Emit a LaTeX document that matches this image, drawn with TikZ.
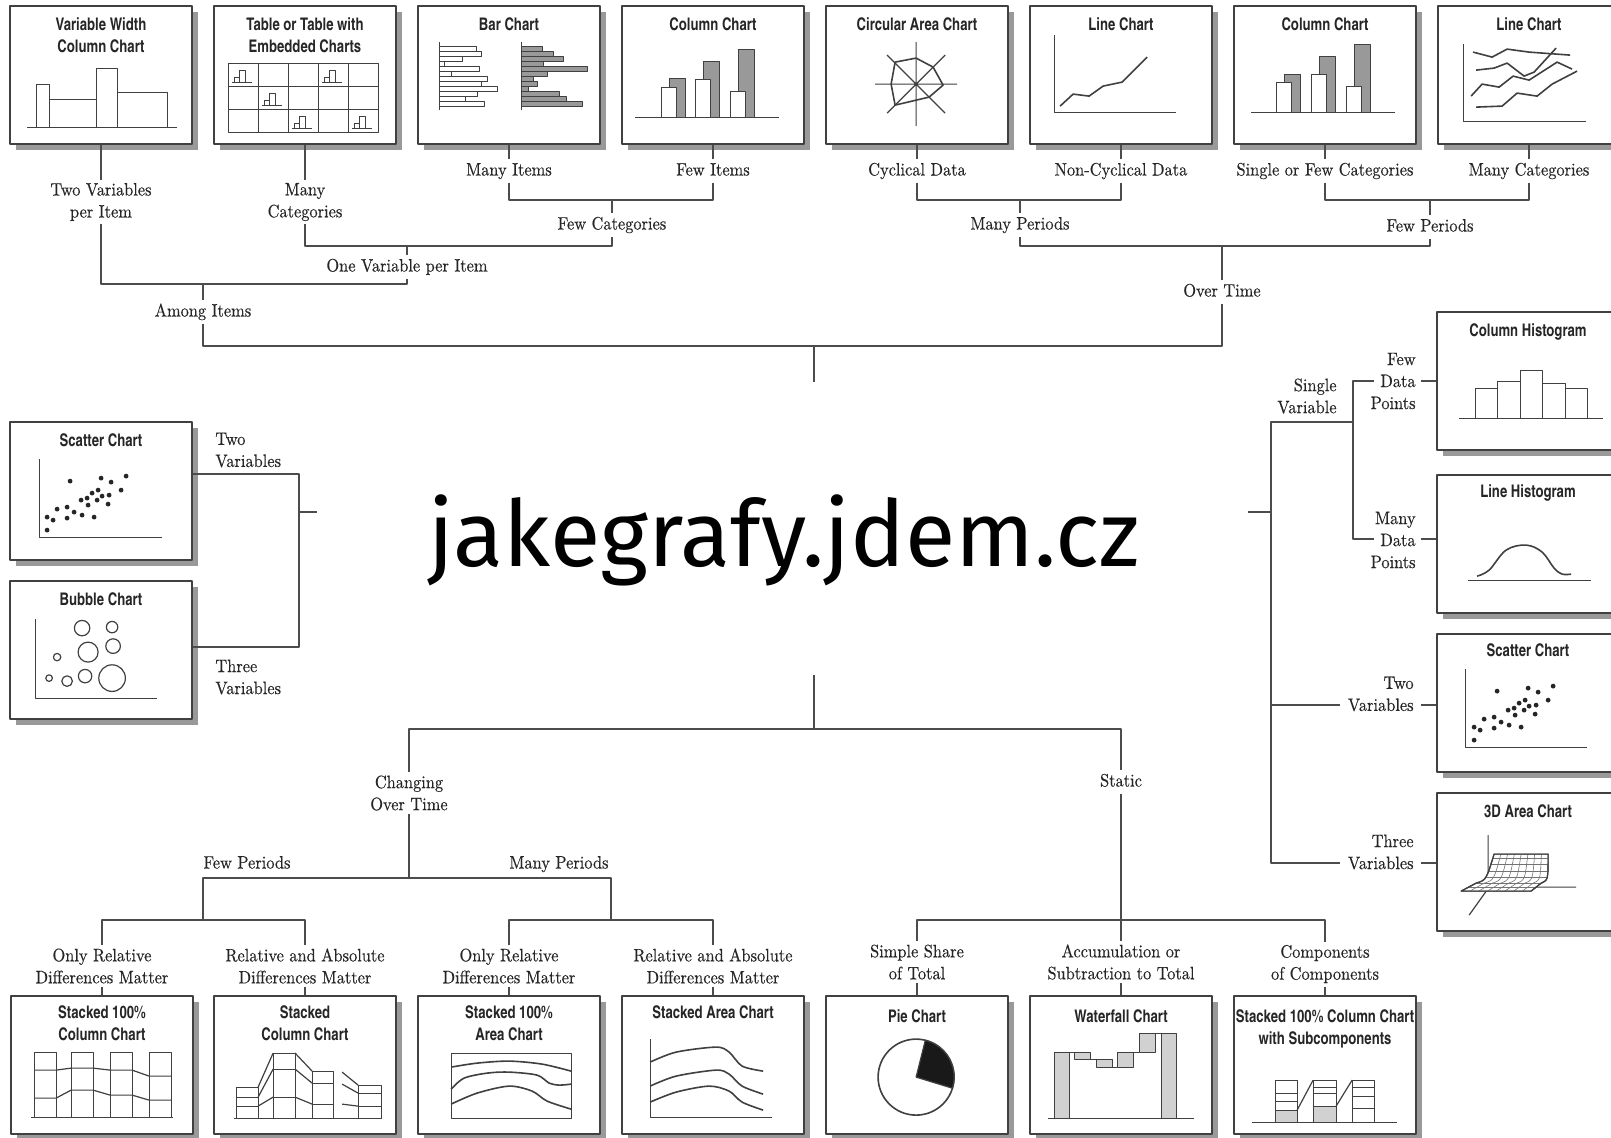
\documentclass[tikz,border=0pt]{standalone}
\usepackage{fontspec}
\usetikzlibrary{positioning, shadows}
\newfontfamily\titlefont[FakeStretch=0.92]{texgyreheroscn-bold.otf}
\newfontfamily\labelfont[FakeStretch=0.91, FakeBold=0.3]{lmroman10-regular.otf}
\newfontfamily\markfont{Fira Sans}
\newcommand{\scatterdots}{61/60, 92/57, 102/61, 117/55, 89/69, 83/72, 112/69, 72/79, 78/77, 93/75, 100/74, 88/79, 79/84, 99/83, 48/88, 58/86, 65/91, 73/94, 38/96, 44/99, 58/97, 85/96, 38/109}

\begin{document}
\begin{tikzpicture}[x=0.5pt, y=-0.5pt, line join=round,
    chart/.style={draw=black!75, line width=0.9pt, fill=white, inner sep=0pt,
                  minimum width=91pt, minimum height=69pt,
                  drop shadow={shadow xshift=2.8pt, shadow yshift=-2.8pt, fill=black!40, opacity=1}},
    ctitle/.style={font=\titlefont\fontsize{8.7}{11}\selectfont, align=center, inner sep=0pt, anchor=north, text=black!85},
    lbl/.style={font=\labelfont\fontsize{9}{11}\selectfont, align=center, inner sep=1.5pt, text=black!85},
    lbl1/.style={lbl, text height=6.4pt, text depth=1.9pt},
    wire/.style={draw=black!70, line width=0.7pt},
    ink/.style={draw=black!75, line width=0.6pt},
    bar/.style={ink, fill=white},
    gbar/.style={ink, fill=black!40},
    lbar/.style={ink, fill=black!18},
    grid3/.style={draw=black!55, line width=0.3pt}]

\fill[white] (0,0) rectangle (1611,1137);
\useasboundingbox (0,0) rectangle (1611,1137);

% chart boxes
\node[chart] (vw)     at (101,75)   {};
\node[chart] (tbl)    at (305,75)   {};
\node[chart] (barc)   at (509,75)   {};
\node[chart] (colc)   at (713,75)   {};
\node[chart] (circ)   at (917,75)   {};
\node[chart] (linec)  at (1121,75)  {};
\node[chart] (colb)   at (1325,75)  {};
\node[chart] (lineb)  at (1529,75)  {};
\node[chart] (scat)   at (101,491)  {};
\node[chart] (bub)    at (101,650)  {};
\node[chart] (chist)  at (1528,381) {};
\node[chart] (lhist)  at (1528,544) {};
\node[chart] (scatb)  at (1528,703) {};
\node[chart] (area3)  at (1528,862) {};
\node[chart] (scolp)  at (102,1065) {};
\node[chart] (scol)   at (305,1065) {};
\node[chart] (sareap) at (509,1065) {};
\node[chart] (sarea)  at (713,1065) {};
\node[chart] (pie)    at (917,1065) {};
\node[chart] (wfall)  at (1121,1065) {};
\node[chart] (subc)   at (1325,1065) {};

% titles
\node[ctitle] (vwT)     at ([yshift=-6pt]vw.north)     {Variable Width\\Column Chart};
\node[ctitle] (tblT)    at ([yshift=-6pt]tbl.north)    {Table or Table with\\Embedded Charts};
\node[ctitle] (barcT)   at ([yshift=-6pt]barc.north)   {Bar Chart};
\node[ctitle] (colcT)   at ([yshift=-6pt]colc.north)   {Column Chart};
\node[ctitle] (circT)   at ([yshift=-6pt]circ.north)   {Circular Area Chart};
\node[ctitle] (linecT)  at ([yshift=-6pt]linec.north)  {Line Chart};
\node[ctitle] (colbT)   at ([yshift=-6pt]colb.north)   {Column Chart};
\node[ctitle] (linebT)  at ([yshift=-6pt]lineb.north)  {Line Chart};
\node[ctitle] (scatT)   at ([yshift=-6pt]scat.north)   {Scatter Chart};
\node[ctitle] (bubT)    at ([yshift=-6pt]bub.north)    {Bubble Chart};
\node[ctitle] (chistT)  at ([yshift=-6pt]chist.north)  {Column Histogram};
\node[ctitle] (lhistT)  at ([yshift=-5pt]lhist.north)  {Line Histogram};
\node[ctitle] (scatbT)  at ([yshift=-5pt]scatb.north)  {Scatter Chart};
\node[ctitle] (area3T)  at ([yshift=-6pt]area3.north)  {3D Area Chart};
\node[ctitle] (scolpT)  at ([yshift=-5pt]scolp.north)  {Stacked 100\%\\Column Chart};
\node[ctitle] (scolT)   at ([yshift=-5pt]scol.north)   {Stacked\\Column Chart};
\node[ctitle] (sareapT) at ([yshift=-5pt]sareap.north) {Stacked 100\%\\Area Chart};
\node[ctitle] (sareaT)  at ([yshift=-5pt]sarea.north)  {Stacked Area Chart};
\node[ctitle] (pieT)    at ([yshift=-7pt]pie.north)    {Pie Chart};
\node[ctitle] (wfallT)  at ([yshift=-7pt]wfall.north)  {Waterfall Chart};
\node[ctitle] (subcT)   at ([yshift=-7pt]subc.north)   {Stacked 100\% Column Chart\\with Subcomponents};

% small pictures inside the boxes
\begin{scope}[shift={(vw.north west)}]
  \draw[bar] (27,122) rectangle (40,79);
  \draw[bar] (40,122) rectangle (87,94);
  \draw[bar] (87,122) rectangle (108,63);
  \draw[bar] (108,122) rectangle (158,87);
  \draw[ink] (18,122) -- (168,122);
\end{scope}

\begin{scope}[shift={(tbl.north west)}]
  \draw[ink] (15,58) rectangle (165,127);
  \foreach \x in {45,75,105,135} \draw[ink] (\x,58) -- (\x,127);
  \foreach \y in {81,104} \draw[ink] (15,\y) -- (165,\y);
  \foreach \c/\r in {0/0, 3/0, 1/1, 2/2, 4/2} {
    \begin{scope}[shift={({15+30*\c},{58+23*\r})}]
      \draw[ink, line width=0.4pt] (6,19) rectangle (11,14) (11,19) rectangle (17,7);
      \draw[ink, line width=0.4pt] (4,19) -- (24,19);
    \end{scope}
  }
\end{scope}

\begin{scope}[shift={(barc.north west)}]
  \foreach \w [count=\i] in {59,64,45,27,62,34,70,64,80,60,48,67}
    \draw[bar] (22,{36+5*\i}) rectangle (\w,{41+5*\i});
  \foreach \w [count=\i] in {125,136,146,126,170,130,116,120,111,142,149,165}
    \draw[gbar] (104,{36+5*\i}) rectangle (\w,{41+5*\i});
  \draw[ink] (22,37) -- (22,105) (104,37) -- (104,105);
\end{scope}

\begin{scope}[shift={(colc.north west)}]
  \foreach \a/\w/\g in {40/82/73, 74/74/56, 109/86/44} {
    \draw[gbar] ({\a+8},112) rectangle ({\a+24},\g);
    \draw[bar] (\a,112) rectangle ({\a+15},\w);
  }
  \draw[ink] (14,112) -- (158,112);
\end{scope}

\begin{scope}[shift={(circ.north west)}]
  \draw[ink] (50,79) -- (132,79) (91,37) -- (91,121) (62,50) -- (120,108) (62,108) -- (120,50);
  \draw[ink, line width=0.8pt] (91,53) -- (108,62) -- (118,80) -- (104,92) -- (70,100) -- (66,79) -- (70,57) -- cycle;
\end{scope}

\begin{scope}[shift={(linec.north west)}]
  \draw[ink] (25,30) -- (25,107) -- (147,107);
  \draw[ink, line width=0.8pt] (31,101) -- (44,89) -- (60,91) -- (74,81) -- (93,77) -- (118,52);
\end{scope}

\begin{scope}[shift={(colb.north west)}]
  \foreach \a/\w/\g in {43/77/69, 78/69/51, 113/81/39} {
    \draw[gbar] ({\a+8},107) rectangle ({\a+24},\g);
    \draw[bar] (\a,107) rectangle ({\a+15},\w);
  }
  \draw[ink] (18,107) -- (162,107);
\end{scope}

\begin{scope}[shift={(lineb.north west)}]
  \draw[ink] (26,39) -- (26,116) -- (149,116);
  \draw[ink, line width=0.8pt] (36,47) -- (55,52) -- (70,44) -- (92,47) -- (133,50);
  \draw[ink, line width=0.8pt] (39,65) -- (57,63) -- (70,58) -- (87,71) -- (97,67) -- (119,43);
  \draw[ink, line width=0.8pt] (34,91) -- (45,79) -- (62,82) -- (76,71) -- (92,75) -- (120,57) -- (135,64);
  \draw[ink, line width=0.8pt] (39,102) -- (65,101) -- (80,88) -- (100,91) -- (115,79) -- (140,66);
\end{scope}

\begin{scope}[shift={(scat.north west)}]
  \draw[ink] (30,38) -- (30,116) -- (153,116);
  \foreach \p/\q in \scatterdots \fill[black!85] (\p,\q) circle (1.2pt);
\end{scope}

\begin{scope}[shift={(bub.north west)}]
  \draw[ink] (26,39) -- (26,118) -- (148,118);
  \foreach \p/\q/\r in {73/48/7.7, 103/47/5.7, 79/72/10, 104/66/7.3, 48/77/3.7, 40/98/3.3, 58/101/5.3, 76/96/6.7, 103/98/13.3}
    \draw[ink] (\p,\q) circle[radius=\r];
\end{scope}

\begin{scope}[shift={(chist.north west)}]
  \foreach \a/\b/\t in {39/61/77, 61/84/70, 84/106/59, 106/129/72, 129/151/77}
    \draw[bar] (\a,107) rectangle (\b,\t);
  \draw[ink] (23,107) -- (167,107);
\end{scope}

\begin{scope}[shift={(lhist.north west)}]
  \draw[ink] (32,106) -- (155,106);
  \draw[ink, line width=0.8pt] plot[smooth, tension=0.6] coordinates {(41,102) (53,96) (70,76) (90,71) (106,78) (118,94) (126,100) (135,100)};
\end{scope}

\begin{scope}[shift={(scatb.north west)}]
  \draw[ink] (29,36) -- (29,114) -- (151,114);
  \foreach \p/\q in \scatterdots \fill[black!85] (\p,{\q-2}) circle (1.2pt);
\end{scope}

\begin{scope}[shift={(area3.north west)}]
  \draw[ink] (52,43) -- (52,94) (83,95) -- (140,95) (53,95) -- (33,123);
  \draw[ink, fill=white] (25,99) -- (95,99) -- (105,91) .. controls (112,88) .. (112,62) -- (58,62) .. controls (50,88) .. (40,91) -- cycle;
  \foreach \i in {1,...,7}
    \draw[grid3] ({25+70*\i/8},99) -- ({40+65*\i/8},91) .. controls ({50+62*\i/8},88) .. ({58+54*\i/8},62);
  \foreach \ya/\xa/\xb in {95/32.5/100, 91/40/105, 85.1/49.8/111.1, 79.2/52.5/111.8, 72/54.9/112, 65.7/56.9/112}
    \draw[grid3] (\xa,\ya) -- (\xb,\ya);
  \draw[ink] (25,99) -- (95,99) -- (105,91) .. controls (112,88) .. (112,62) -- (58,62) .. controls (50,88) .. (40,91) -- cycle;
\end{scope}

\begin{scope}[shift={(scolp.north west)}]
  \foreach \a in {24,61,100,139} \draw[bar] (\a,122) rectangle ({\a+22},57);
  \draw[ink] (24,75) -- (46,75) -- (61,73) -- (83,73) -- (100,75) -- (122,75) -- (139,81) -- (161,81);
  \draw[ink] (24,103) -- (46,103) -- (61,95) -- (83,95) -- (100,100) -- (122,100) -- (139,105) -- (161,105);
  \draw[ink] (21,122) -- (163,122);
\end{scope}

\begin{scope}[shift={(scol.north west)}]
  \foreach \a/\b/\t/\m/\n in {23/45/92/102/111, 60/82/58/74/102, 99/120/76/88/109, 145/168/90/98/111} {
    \draw[bar] (\a,123) rectangle (\b,\t);
    \draw[ink] (\a,\m) -- (\b,\m) (\a,\n) -- (\b,\n);
  }
  \draw[ink] (45,92) -- (60,58) (45,102) -- (60,74) (45,111) -- (60,102);
  \draw[ink] (82,58) -- (99,76) (82,74) -- (99,88) (82,102) -- (99,109);
  \draw[ink] (129,77) -- (145,90) (129,89) -- (145,98) (129,109) -- (145,111);
  \draw[ink] (21,123) -- (169,123);
\end{scope}

\begin{scope}[shift={(sareap.north west)}]
  \draw[ink] (34,58) rectangle (154,123);
  \draw[ink, line width=0.8pt] plot[smooth] coordinates {(34,72) (60,68) (92,66) (125,69) (154,76)};
  \draw[ink, line width=0.8pt] plot[smooth] coordinates {(34,94) (47,83) (70,78) (92,77) (120,80) (132,88) (142,90) (154,89)};
  \draw[ink, line width=0.8pt] plot[smooth] coordinates {(34,109) (60,98) (92,91) (115,96) (130,106) (154,114)};
\end{scope}

\begin{scope}[shift={(sarea.north west)}]
  \draw[ink] (29,44) -- (29,122) -- (151,122);
  \draw[ink, line width=0.8pt] plot[smooth] coordinates {(29,67) (55,57) (95,52) (108,57) (121,71) (142,76)};
  \draw[ink, line width=0.8pt] plot[smooth] coordinates {(29,91) (55,81) (95,75) (108,79) (121,91) (142,99)};
  \draw[ink, line width=0.8pt] plot[smooth] coordinates {(29,107) (55,97) (88,91) (108,96) (121,107) (142,115)};
\end{scope}

\begin{scope}[shift={(pie.north west)}]
  \draw[ink, line width=0.8pt] (91,82) circle[radius=38];
  \filldraw[ink, fill=black!90] (91,82) -- ++(17:38) arc[start angle=17, end angle=-76, radius=38] -- cycle;
\end{scope}

\begin{scope}[shift={(wfall.north west)}]
  \draw[lbar] (25,123) rectangle (40,57);
  \draw[lbar] (45,57) rectangle (61,64);
  \draw[lbar] (67,64) rectangle (83,72);
  \draw[lbar] (88,72) rectangle (104,57);
  \draw[lbar] (110,57) rectangle (126,38);
  \draw[lbar] (132,123) rectangle (147,38);
  \draw[ink] (40,57) -- (45,57) (61,64) -- (67,64) (83,72) -- (88,72) (104,57) -- (110,57) (126,38) -- (132,38);
  \draw[ink] (19,123) -- (165,123);
\end{scope}

\begin{scope}[shift={(subc.north west)}]
  \draw[lbar] (42,127) rectangle (64,115);
  \draw[lbar] (80,127) rectangle (103,111);
  \draw[ink] (42,127) rectangle (64,85) (42,98) -- (64,98) (42,106) -- (64,106);
  \draw[ink] (80,127) rectangle (103,85) (80,92) -- (103,92) (80,98) -- (103,98);
  \draw[ink] (119,127) rectangle (141,85) (119,92) -- (141,92) (119,101) -- (141,101) (119,113) -- (141,113);
  \draw[ink] (64,115) -- (80,85) (103,111) -- (119,85);
  \draw[ink] (19,127) -- (164,127);
\end{scope}

% top tree
\node[lbl]  (twovar)    at (101,202)  {Two Variables\\per Item};
\node[lbl]  (manycat)   at (305,202)  {Many\\Categories};
\node[lbl1] (manyitem)  at (509,171)  {Many Items};
\node[lbl1] (fewitem)   at (713,171)  {Few Items};
\node[lbl1] (fewcat)    at (612,225)  {Few Categories};
\node[lbl1] (onevar)    at (407,267)  {One Variable per Item};
\node[lbl1] (among)     at (203,312)  {Among Items};
\node[lbl1] (cyc)       at (917,171)  {Cyclical Data};
\node[lbl1] (noncyc)    at (1121,171) {Non-Cyclical Data};
\node[lbl1] (manyper)   at (1020,225) {Many Periods};
\node[lbl1] (singlefew) at (1325,171) {Single or Few Categories};
\node[lbl1] (manycatb)  at (1529,171) {Many Categories};
\node[lbl1] (fewper)    at (1430,227) {Few Periods};
\node[lbl1] (overtime)  at (1222,292) {Over Time};

\coordinate (hA) at (0,200);
\coordinate (hB) at (0,246);
\coordinate (hC) at (0,284);
\coordinate (hD) at (0,346);
\coordinate (stubT) at (814,382);
\draw[wire] (vw) -- (twovar) |- (onevar |- hC) -- (onevar) -- (onevar |- hB);
\draw[wire] (tbl) -- (manycat) |- (fewcat |- hB) -- (fewcat) -- (fewcat |- hA);
\draw[wire] (barc) -- (manyitem) |- (fewitem |- hA) -- (fewitem) -- (colc);
\draw[wire] (among |- hC) -- (among) -- (among |- hD) -- (overtime |- hD) -- (overtime) -- (overtime |- hB);
\draw[wire] (circ) -- (cyc) |- (noncyc |- hA) -- (noncyc) -- (linec);
\draw[wire] (manyper |- hA) -- (manyper) |- (fewper |- hB) -- (fewper) -- (fewper |- hA);
\draw[wire] (colb) -- (singlefew) |- (manycatb |- hA) -- (manycatb) -- (lineb);
\draw[wire] (stubT |- hD) -- (stubT);

% left tree
\node[lbl, align=left, anchor=west] (twovarL)   at (212,450) {Two\\Variables};
\node[lbl, align=left, anchor=west] (threevarL) at (212,677) {Three\\Variables};
\coordinate (jS) at (299,474);
\coordinate (jB) at (299,647);
\coordinate (stubL) at (317,512);
\draw[wire] (scat.east |- jS) -- (jS) -- (jB) -- (bub.east |- jB);
\draw[wire] (jS |- stubL) -- (stubL);

% right tree
\node[lbl, align=right, anchor=east] (singlev)   at (1340,396) {Single\\Variable};
\node[lbl, align=right, anchor=east] (fewdp)     at (1419,381) {Few\\Data\\Points};
\node[lbl, align=right, anchor=east] (manydp)    at (1419,540) {Many\\Data\\Points};
\node[lbl, align=right, anchor=east] (twovarR)   at (1417,694) {Two\\Variables};
\node[lbl, align=right, anchor=east] (threevarR) at (1417,852) {Three\\Variables};
\coordinate (stubR) at (1248,512);
\coordinate (jR1) at (1271,422);
\coordinate (jR4) at (1271,863);
\coordinate (jSV) at (1353,422);
\coordinate (jFew) at (1353,381);
\coordinate (jMany) at (1353,539);
\coordinate (fewIn) at (1374,381);
\coordinate (fewOut) at (1421,381);
\coordinate (manyIn) at (1374,539);
\coordinate (manyOut) at (1421,539);
\coordinate (twoIn) at (1340,705);
\coordinate (twoOut) at (1421,705);
\coordinate (threeIn) at (1340,863);
\coordinate (threeOut) at (1421,863);
\draw[wire] (stubR) -- (jR1 |- stubR);
\draw[wire] (jSV) -- (jR1) -- (jR4) -- (threeIn);
\draw[wire] (jR1 |- twoIn) -- (twoIn);
\draw[wire] (fewIn) -- (jFew) -- (jMany) -- (manyIn);
\draw[wire] (fewOut) -- (chist.west |- fewOut);
\draw[wire] (manyOut) -- (lhist.west |- manyOut);
\draw[wire] (twoOut) -- (scatb.west |- twoOut);
\draw[wire] (threeOut) -- (area3.west |- threeOut);

% bottom tree
\node[lbl]  (changing) at (409,793)  {Changing\\Over Time};
\node[lbl1] (static)   at (1121,782) {Static};
\node[lbl1] (fewperB)  at (247,864)  {Few Periods};
\node[lbl1] (manyperB) at (559,864)  {Many Periods};
\node[lbl]  (onlyA)    at (102,966)  {Only Relative\\Differences Matter};
\node[lbl]  (relA)     at (305,966)  {Relative and Absolute\\Differences Matter};
\node[lbl]  (onlyB)    at (509,966)  {Only Relative\\Differences Matter};
\node[lbl]  (relB)     at (713,966)  {Relative and Absolute\\Differences Matter};
\node[lbl]  (simple)   at (917,962)  {Simple Share\\of Total};
\node[lbl]  (accum)    at (1121,962) {Accumulation or\\Subtraction to Total};
\node[lbl]  (compo)    at (1325,964) {Components\\of Components};

\coordinate (hE) at (0,729);
\coordinate (hF) at (0,878);
\coordinate (hG) at (0,920);
\coordinate (stubB) at (814,675);
\coordinate (jFP) at (203,878);
\coordinate (jMP) at (611,878);
\draw[wire] (stubB) -- (stubB |- hE);
\draw[wire] (changing) -- (changing |- hE) -- (static |- hE) -- (static) -- (accum);
\draw[wire] (changing) -- (changing |- hF);
\draw[wire] (jFP |- hG) -- (jFP) -- (jMP) -- (jMP |- hG);
\draw[wire] (onlyA) |- (relA |- hG) -- (relA);
\draw[wire] (onlyB) |- (relB |- hG) -- (relB);
\draw[wire] (simple) |- (compo |- hG) -- (compo);
\draw[wire] (onlyA) -- (scolp);
\draw[wire] (relA) -- (scol);
\draw[wire] (onlyB) -- (sareap);
\draw[wire] (relB) -- (sarea);
\draw[wire] (simple) -- (pie);
\draw[wire] (accum) -- (wfall);
\draw[wire] (compo) -- (subc);

% watermark
\node[font=\markfont\fontsize{46}{50}\selectfont, anchor=base, inner sep=0pt] (mark) at (784,566) {jakegrafy.jdem.cz};
\end{tikzpicture}
\end{document}
